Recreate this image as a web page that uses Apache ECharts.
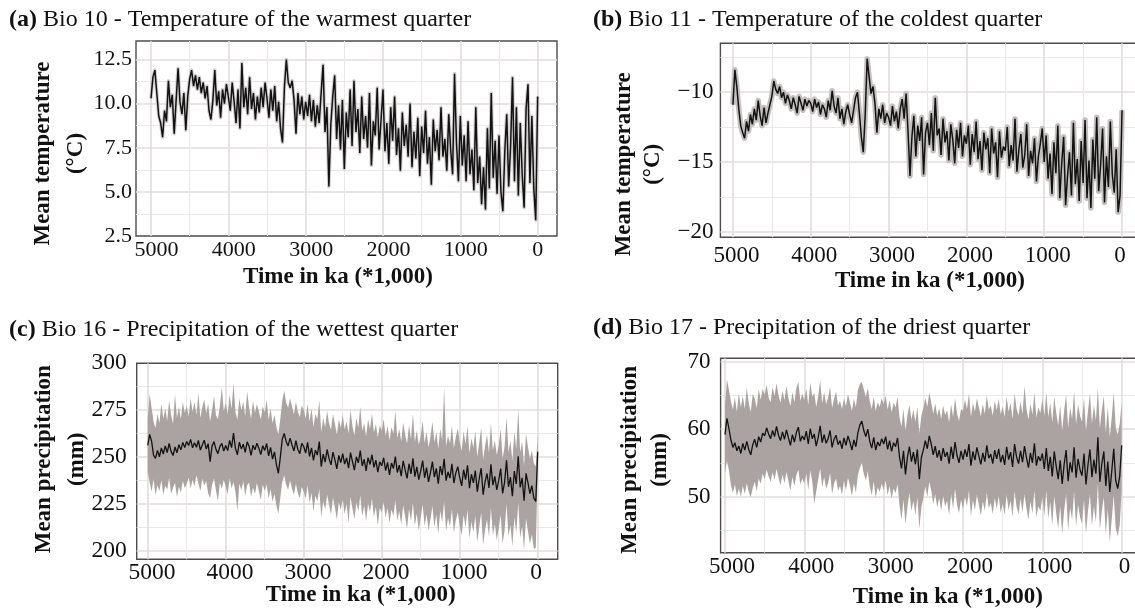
<!DOCTYPE html>
<html>
<head>
<meta charset="utf-8">
<title>Bioclimatic variables through time</title>
<script src="https://cdn.jsdelivr.net/npm/echarts@6/dist/echarts.min.js"></script>
<style>
  html, body { margin: 0; padding: 0; background: #fff; }
  #chart { width: 1135px; height: 613px; }
</style>
</head>
<body>
<div id="chart"></div>
<script>
// time steps shared by every panel (ka)
const timeKa = [
  5000, 4975, 4950, 4925, 4900, 4875, 4850, 4825, 4800, 4775, 4750, 4725, 4700, 4675, 4650, 4625, 4600, 4575, 4550, 4525,
  4500, 4475, 4450, 4425, 4400, 4375, 4350, 4325, 4300, 4275, 4250, 4225, 4200, 4175, 4150, 4125, 4100, 4075, 4050, 4025,
  4000, 3975, 3950, 3925, 3900, 3875, 3850, 3825, 3800, 3775, 3750, 3725, 3700, 3675, 3650, 3625, 3600, 3575, 3550, 3525,
  3500, 3475, 3450, 3425, 3400, 3375, 3350, 3325, 3300, 3275, 3250, 3225, 3200, 3175, 3150, 3125, 3100, 3075, 3050, 3025,
  3000, 2975, 2950, 2925, 2900, 2875, 2850, 2825, 2800, 2775, 2750, 2725, 2700, 2675, 2650, 2625, 2600, 2575, 2550, 2525,
  2500, 2475, 2450, 2425, 2400, 2375, 2350, 2325, 2300, 2275, 2250, 2225, 2200, 2175, 2150, 2125, 2100, 2075, 2050, 2025,
  2000, 1975, 1950, 1925, 1900, 1875, 1850, 1825, 1800, 1775, 1750, 1725, 1700, 1675, 1650, 1625, 1600, 1575, 1550, 1525,
  1500, 1475, 1450, 1425, 1400, 1375, 1350, 1325, 1300, 1275, 1250, 1225, 1200, 1175, 1150, 1125, 1100, 1075, 1050, 1025,
  1000, 975, 950, 925, 900, 875, 850, 825, 800, 775, 750, 725, 700, 675, 650, 625, 600, 575, 550, 525,
  500, 475, 450, 425, 400, 375, 350, 325, 300, 275, 250, 225, 200, 175, 150, 125, 100, 75, 50, 25,
  0
]

// (a) Bio 10, mean temperature of the warmest quarter (°C)
const bio10Mean = [
  10.3, 11.5, 11.9, 10.6, 9.3, 8.9, 8.1, 9.6, 9.0, 11.3, 9.8, 10.5, 8.3, 10.2, 12.0, 10.1, 9.4, 10.6, 8.5, 10.4,
  11.4, 11.9, 11.0, 11.6, 10.8, 11.5, 10.6, 11.2, 10.3, 11.0, 9.6, 9.1, 10.2, 11.9, 9.9, 10.7, 9.2, 10.8, 10.0, 11.1,
  10.4, 9.6, 11.2, 10.1, 8.9, 10.8, 8.6, 12.3, 9.8, 10.9, 9.4, 11.5, 9.7, 10.6, 9.1, 10.4, 9.5, 10.9, 9.8, 11.2,
  10.3, 9.2, 10.8, 9.6, 11.0, 9.0, 10.1, 8.6, 7.8, 10.9, 12.5, 11.2, 10.9, 11.3, 10.2, 8.3, 10.6, 9.4, 10.4, 9.1,
  10.1, 9.3, 10.5, 9.0, 10.2, 8.7, 9.9, 8.9, 10.6, 12.2, 8.4, 9.8, 5.3, 8.8, 10.4, 11.6, 8.0, 9.9, 7.4, 10.2,
  6.3, 9.5, 8.1, 10.8, 7.6, 11.3, 8.4, 9.7, 7.2, 10.4, 8.0, 9.3, 7.5, 10.6, 6.5, 9.0, 8.2, 10.9, 7.4, 9.1,
  10.8, 7.3, 8.9, 6.6, 9.8, 7.9, 10.4, 7.1, 8.6, 6.2, 9.5, 7.6, 8.8, 7.0, 10.0, 6.4, 8.4, 6.9, 9.2, 5.9,
  8.7, 7.2, 9.6, 6.6, 8.1, 5.4, 9.1, 7.3, 8.5, 6.8, 9.8, 7.0, 8.0, 6.2, 9.4, 7.4, 6.0, 11.7, 7.8, 5.6,
  9.3, 6.5, 8.2, 5.6, 9.0, 6.0, 7.4, 5.1, 9.8, 5.5, 7.0, 4.3, 6.4, 4.0, 8.6, 5.2, 10.6, 5.8, 7.9, 4.9,
  8.2, 5.0, 3.9, 7.3, 9.4, 5.3, 7.6, 11.5, 5.6, 9.8, 4.8, 8.9, 6.0, 4.1, 9.7, 11.1, 5.5, 9.3, 5.2, 3.4,
  10.4
]

// (b) Bio 11, mean temperature of the coldest quarter (°C)
const bio11Mean = [
  -10.9, -8.4, -9.6, -11.2, -12.4, -12.9, -13.3, -12.1, -12.8, -11.6, -12.3, -11.2, -12.0, -10.6, -11.7, -12.4, -11.1, -12.2, -11.5, -10.9,
  -10.3, -9.2, -9.8, -10.1, -9.6, -10.4, -10.0, -10.8, -10.2, -10.6, -11.2, -10.4, -10.9, -11.5, -10.3, -10.8, -11.3, -10.5, -11.0, -10.6,
  -10.8, -11.4, -10.5, -11.1, -10.7, -11.6, -10.9, -11.2, -11.8, -10.6, -11.3, -9.9, -11.0, -11.5, -10.4, -11.9, -11.2, -12.3, -11.4, -10.9,
  -11.6, -12.2, -11.3, -10.4, -10.0, -11.5, -13.2, -14.3, -11.6, -7.6, -8.9, -10.1, -9.6, -10.8, -12.9, -11.2, -11.9, -10.9, -12.2, -11.5,
  -11.8, -12.4, -11.0, -12.1, -11.4, -12.6, -11.2, -10.5, -11.9, -10.1, -12.8, -16.0, -13.2, -11.7, -14.6, -12.4, -13.5, -11.8, -15.9, -12.9,
  -12.2, -13.8, -11.5, -14.2, -10.4, -13.1, -12.6, -14.5, -11.9, -13.6, -12.8, -14.9, -12.3, -13.4, -15.1, -12.7, -14.0, -12.2, -14.6, -13.1,
  -13.7, -12.4, -15.2, -13.0, -14.3, -12.1, -14.8, -13.5, -15.6, -12.9, -14.1, -13.3, -15.8, -12.6, -14.4, -13.6, -16.1, -12.8, -14.7, -13.9,
  -14.2, -12.5, -15.3, -13.8, -14.9, -11.9, -15.7, -14.1, -13.0, -15.4, -14.5, -12.3, -16.0, -14.2, -15.1, -13.3, -16.4, -14.6, -13.7, -12.6,
  -15.0, -13.1, -16.2, -14.4, -17.3, -13.6, -15.8, -12.4, -17.6, -15.1, -13.2, -18.1, -16.0, -14.3, -17.4, -12.2, -16.6, -14.8, -17.8, -13.5,
  -16.5, -12.0, -17.6, -14.9, -18.3, -13.4, -16.2, -11.8, -17.1, -15.2, -12.6, -17.9, -14.6, -16.8, -12.1, -15.9, -17.2, -14.1, -18.6, -17.4,
  -11.3
]

// (c) Bio 16, precipitation of the wettest quarter (mm): mean and envelope
const bio16Mean = [
  256.2, 262.1, 258.4, 251.0, 249.3, 253.5, 250.1, 254.8, 251.6, 255.9, 252.4, 257.2, 253.0, 250.8, 255.3, 252.2, 256.6, 253.8, 257.8, 255.1,
  258.3, 256.1, 259.4, 254.9, 257.6, 255.2, 258.8, 253.7, 256.4, 259.0, 254.3, 257.1, 247.5, 255.8, 258.2, 254.1, 251.8, 255.5, 257.3, 253.2,
  256.1, 253.4, 258.9, 255.0, 262.8, 254.6, 251.2, 257.9, 254.3, 256.8, 252.5, 258.1, 255.7, 250.9, 256.3, 253.8, 257.4, 254.7, 251.3, 256.0,
  253.5, 257.2, 250.6, 255.1, 248.9, 252.7, 246.0, 241.3, 249.8, 259.5, 262.6, 258.3, 255.9, 260.1, 256.4, 253.2, 258.7, 254.0, 251.8, 257.3,
  255.6, 252.1, 257.8, 250.3, 254.9, 248.2, 253.6, 251.0, 258.2, 244.9, 251.5, 247.3, 254.0, 249.1, 245.8, 252.6, 248.5, 243.7, 250.9, 247.0,
  251.8, 246.2, 249.5, 244.1, 252.3, 247.6, 243.0, 250.1, 246.9, 253.4, 245.2, 248.8, 242.6, 249.7, 246.0, 251.2, 244.5, 248.3, 241.9, 247.4,
  245.3, 249.6, 242.8, 247.1, 240.4, 246.8, 243.9, 250.2, 241.7, 245.6, 239.8, 247.9, 243.2, 238.6, 246.4, 241.0, 249.3, 239.5, 244.7, 237.9,
  242.6, 248.1, 238.9, 244.3, 236.7, 241.8, 247.5, 239.2, 243.9, 235.8, 245.1, 240.3, 249.0, 237.4, 242.1, 238.7, 246.3, 236.1, 241.5, 244.8,
  239.0, 234.6, 243.2, 237.9, 245.6, 233.4, 240.8, 236.2, 242.7, 231.5, 238.4, 244.0, 229.9, 236.8, 241.2, 233.5, 246.1, 235.0, 239.7, 232.4,
  237.5, 243.8, 230.6, 236.4, 248.3, 234.1, 239.2, 229.1, 242.5, 235.6, 250.4, 233.8, 238.9, 226.7, 241.3, 236.2, 230.4, 234.7, 228.0, 226.3,
  252.8
]
const bio16Upper = [
  270.5, 283.8, 276.2, 268.9, 265.4, 273.1, 268.2, 278.6, 270.4, 275.9, 269.3, 280.1, 272.4, 267.7, 283.5, 271.0, 276.8, 270.2, 279.4, 273.6,
  277.3, 271.8, 281.5, 274.0, 279.2, 272.6, 284.0, 270.9, 276.5, 280.7, 273.2, 278.4, 268.9, 275.1, 282.6, 272.3, 270.1, 276.9, 287.5, 274.4,
  278.8, 273.0, 283.2, 275.6, 289.4, 274.1, 269.8, 281.3, 275.0, 279.6, 271.7, 285.1, 276.3, 270.4, 279.9, 273.5, 278.2, 274.6, 270.0, 277.1,
  273.8, 280.6, 269.7, 275.9, 268.1, 272.4, 266.0, 262.2, 270.3, 280.2, 285.5, 278.9, 276.1, 281.4, 277.0, 272.8, 279.6, 274.2, 271.3, 277.5,
  275.2, 270.6, 278.4, 268.9, 276.0, 266.1, 272.8, 270.2, 280.3, 263.4, 271.0, 265.8, 274.7, 268.0, 264.4, 273.1, 267.5, 262.0, 270.2, 265.5,
  272.6, 264.8, 269.1, 262.5, 275.2, 266.3, 261.5, 270.7, 265.6, 276.8, 263.9, 268.0, 261.0, 270.2, 264.9, 273.4, 263.0, 267.6, 260.4, 266.9,
  264.0, 270.3, 261.2, 266.5, 258.9, 265.9, 262.5, 274.6, 260.1, 264.9, 258.3, 268.4, 262.0, 257.0, 267.0, 259.5, 273.1, 258.0, 264.2, 256.4,
  261.4, 269.3, 257.5, 263.5, 255.2, 260.9, 268.8, 257.8, 263.4, 254.4, 265.0, 259.1, 286.9, 256.0, 261.3, 257.3, 266.8, 254.7, 260.7, 265.4,
  258.0, 253.2, 263.8, 256.9, 266.7, 252.0, 260.0, 254.8, 263.9, 250.1, 257.4, 265.8, 248.5, 255.8, 262.0, 252.1, 268.2, 253.6, 258.9, 251.0,
  256.6, 264.9, 249.2, 255.5, 271.3, 252.7, 258.5, 247.7, 263.6, 254.3, 275.8, 252.4, 258.2, 245.3, 262.5, 255.3, 249.0, 253.4, 246.6, 244.9,
  262.0
]
const bio16Lower = [
  242.0, 236.5, 231.4, 238.2, 229.6, 235.0, 231.8, 237.6, 229.9, 234.7, 232.5, 238.9, 230.2, 233.6, 236.3, 228.7, 234.1, 231.0, 237.2, 233.4,
  235.6, 239.1, 233.2, 237.8, 234.4, 240.3, 236.0, 231.9, 238.5, 234.8, 237.2, 230.7, 228.0, 234.9, 238.6, 232.1, 226.5, 236.3, 233.0, 237.9,
  234.2, 230.1, 238.5, 233.3, 236.7, 231.5, 221.3, 235.8, 232.2, 237.0, 229.4, 234.9, 236.4, 228.8, 233.7, 230.2, 236.1, 231.9, 227.0, 235.3,
  231.8, 235.4, 228.0, 232.9, 226.1, 230.2, 224.0, 219.7, 228.2, 236.6, 240.1, 235.2, 232.4, 237.5, 233.0, 229.8, 235.6, 230.8, 228.0, 234.0,
  231.5, 227.9, 234.6, 225.5, 230.9, 221.0, 229.3, 226.4, 232.8, 217.8, 226.5, 222.0, 229.8, 224.7, 219.2, 228.4, 223.1, 216.5, 226.0, 221.9,
  227.3, 219.6, 225.0, 214.9, 228.6, 222.5, 216.8, 225.9, 221.0, 229.5, 218.4, 224.3, 215.7, 225.2, 220.6, 227.8, 218.0, 223.4, 213.5, 222.8,
  220.4, 226.0, 217.6, 222.9, 214.8, 222.0, 218.5, 227.0, 216.0, 221.3, 213.7, 224.2, 218.1, 211.8, 222.2, 215.9, 225.5, 213.4, 219.9, 210.6,
  218.0, 224.6, 213.0, 219.5, 210.9, 216.8, 223.9, 212.7, 219.3, 208.9, 221.2, 215.0, 226.4, 210.5, 217.4, 212.9, 222.1, 209.5, 216.2, 220.4,
  213.5, 208.3, 219.0, 212.6, 221.9, 206.5, 215.5, 209.8, 218.7, 204.6, 212.8, 220.2, 203.0, 211.2, 216.8, 207.4, 222.8, 208.3, 214.2, 205.7,
  212.0, 219.2, 203.8, 210.6, 224.9, 207.5, 213.7, 202.4, 217.9, 209.4, 225.6, 206.9, 213.1, 200.6, 217.2, 210.4, 203.7, 208.8, 200.9, 201.5,
  243.5
]

// (d) Bio 17, precipitation of the driest quarter (mm): mean and envelope
const bio17Mean = [
  59.2, 61.6, 60.1, 58.4, 57.3, 58.0, 56.8, 57.5, 56.4, 57.9, 56.9, 58.2, 57.0, 56.2, 57.7, 58.5, 57.3, 58.9, 58.1, 59.4,
  59.0, 60.2, 59.3, 58.6, 59.8, 58.9, 60.4, 59.1, 58.3, 59.6, 58.5, 59.9, 58.7, 57.6, 59.2, 58.1, 59.5, 60.3, 58.2, 59.0,
  58.4, 59.7, 57.8, 60.1, 58.6, 59.3, 57.5, 58.8, 60.5, 58.0, 59.2, 57.9, 58.6, 59.8, 57.3, 58.5, 59.1, 57.7, 58.3, 57.1,
  58.7, 57.6, 59.0, 58.1, 56.9, 58.4, 57.4, 59.5, 60.6, 61.2, 59.8, 58.9, 60.0, 58.2, 57.2, 58.8, 56.9, 58.1, 57.5, 58.6,
  57.8, 58.9, 57.0, 58.3, 56.7, 58.0, 57.4, 58.7, 55.9, 54.2, 56.8, 53.3, 55.9, 57.4, 55.2, 56.6, 54.8, 57.0, 52.6, 55.8,
  56.9, 58.3, 57.1, 59.0, 57.8, 56.2, 57.5, 55.8, 56.9, 55.3, 57.2, 55.9, 56.6, 54.9, 57.4, 55.6, 58.1, 56.1, 55.0, 56.8,
  55.5, 57.0, 55.9, 57.8, 54.6, 56.7, 55.4, 57.3, 56.0, 54.8, 56.5, 55.2, 57.6, 55.7, 56.3, 54.9, 56.9, 55.6, 57.1, 55.1,
  56.2, 54.7, 57.4, 55.5, 56.6, 54.4, 57.8, 55.9, 54.9, 56.8, 55.1, 57.5, 55.8, 54.3, 56.5, 55.0, 57.9, 54.6, 56.0, 55.3,
  56.4, 54.1, 57.2, 53.8, 55.9, 53.0, 56.7, 54.5, 52.6, 55.4, 51.9, 54.8, 56.9, 52.3, 55.1, 53.6, 57.3, 52.8, 55.6, 54.0,
  53.1, 56.4, 51.8, 54.7, 57.0, 52.9, 55.5, 53.4, 58.8, 52.2, 54.9, 56.7, 51.6, 55.2, 50.7, 53.8, 57.1, 52.4, 51.2, 53.0,
  57.6
]
const bio17Upper = [
  63.5, 67.4, 65.8, 64.1, 62.9, 64.7, 62.6, 65.3, 63.2, 64.9, 63.0, 66.1, 63.8, 62.5, 65.2, 64.6, 63.1, 65.9, 64.4, 66.0,
  65.1, 66.6, 64.7, 64.0, 66.2, 64.9, 66.8, 65.0, 63.9, 65.7, 64.3, 66.4, 64.6, 63.4, 65.5, 64.0, 66.1, 67.0, 64.2, 65.3,
  64.3, 66.0, 63.6, 66.9, 64.8, 65.4, 63.3, 64.9, 67.2, 63.8, 65.5, 63.7, 64.7, 66.3, 63.1, 64.5, 65.6, 63.5, 64.2, 63.0,
  64.6, 63.4, 65.2, 64.0, 62.7, 64.5, 63.2, 65.8, 66.7, 67.0, 65.9, 64.8, 66.1, 64.1, 63.0, 64.8, 62.7, 64.0, 63.3, 64.6,
  63.7, 65.0, 62.9, 64.3, 62.5, 63.9, 63.2, 64.8, 61.7, 60.4, 62.9, 59.8, 62.1, 63.6, 61.4, 62.9, 61.1, 63.3, 59.4, 62.0,
  63.1, 64.7, 63.3, 65.4, 64.0, 62.3, 63.8, 62.0, 63.1, 61.5, 63.5, 62.1, 62.8, 61.0, 63.7, 61.8, 64.6, 62.3, 61.2, 63.0,
  62.7, 64.4, 63.0, 65.3, 61.8, 63.9, 62.6, 64.6, 63.2, 61.9, 63.7, 62.3, 65.0, 62.9, 63.5, 62.0, 64.2, 62.8, 64.5, 62.2,
  63.4, 61.8, 64.8, 62.6, 63.9, 61.5, 65.3, 63.1, 62.0, 64.1, 62.2, 66.4, 63.0, 61.4, 63.8, 62.1, 65.4, 61.7, 63.2, 62.4,
  64.5, 62.0, 65.4, 61.8, 63.9, 61.0, 64.8, 62.4, 60.6, 63.5, 59.8, 62.8, 65.1, 60.2, 63.2, 61.5, 65.6, 60.7, 63.7, 62.0,
  61.1, 64.6, 59.8, 62.7, 65.3, 60.8, 63.6, 61.3, 66.1, 60.1, 62.9, 64.9, 59.5, 63.3, 58.8, 61.8, 65.4, 60.3, 59.2, 60.8,
  64.0
]
const bio17Lower = [
  53.5, 55.3, 53.9, 51.7, 50.6, 51.8, 50.1, 51.2, 50.0, 51.6, 50.4, 52.0, 50.7, 49.9, 51.3, 52.2, 50.8, 52.7, 51.9, 53.4,
  52.6, 54.0, 53.0, 52.2, 53.6, 52.5, 54.1, 52.8, 51.7, 53.3, 52.0, 53.7, 52.3, 50.9, 52.9, 51.6, 53.2, 54.0, 51.8, 52.7,
  51.9, 53.4, 51.0, 53.9, 52.3, 49.0, 50.8, 52.5, 54.2, 51.4, 52.9, 51.2, 52.0, 53.5, 50.4, 51.9, 52.7, 50.9, 51.6, 50.3,
  52.4, 50.9, 52.8, 51.7, 50.1, 52.0, 50.6, 53.2, 54.3, 55.0, 53.4, 52.4, 53.8, 51.5, 50.2, 52.3, 49.8, 51.4, 50.7, 51.9,
  51.0, 52.4, 50.2, 51.6, 49.7, 51.2, 50.5, 51.9, 48.7, 46.6, 49.6, 45.9, 48.5, 50.6, 47.9, 49.4, 47.3, 49.9, 45.2, 48.4,
  49.8, 51.5, 50.0, 52.2, 50.9, 48.9, 50.4, 48.4, 49.8, 47.9, 50.1, 48.6, 49.4, 47.3, 50.4, 48.2, 51.2, 48.8, 47.6, 49.6,
  48.1, 50.0, 48.6, 50.9, 47.1, 49.5, 48.0, 50.3, 48.8, 47.2, 49.3, 47.9, 50.6, 48.3, 49.1, 47.4, 49.8, 48.2, 50.1, 47.6,
  49.0, 47.3, 50.3, 48.0, 49.4, 46.9, 50.8, 48.5, 47.4, 49.7, 47.7, 50.4, 48.3, 46.6, 49.3, 47.5, 50.9, 47.0, 48.6, 47.9,
  49.9, 47.1, 50.9, 46.8, 49.2, 45.8, 50.1, 47.5, 45.3, 48.6, 44.5, 47.9, 50.4, 45.0, 48.4, 46.6, 50.8, 45.6, 48.8, 47.0,
  46.0, 49.6, 44.6, 47.8, 50.4, 45.7, 48.6, 46.2, 52.0, 45.1, 47.9, 49.9, 44.4, 48.2, 43.3, 46.7, 50.2, 45.3, 44.1, 45.8,
  50.9
]

const FONT = "'Liberation Serif', 'Times New Roman', serif"
const INK = '#111'
const GRID_MAJOR = '#e3dddd'
const GRID_MINOR = '#ece8e8'

const panels = [
  {
    tag: 'a', title: 'Bio 10 - Temperature of the warmest quarter', titlePos: [9, 6],
    box: [136, 41, 421, 195], x: [-250, 5194], y: [2.5, 13.55], yStep: 2.5,
    yFmt: v => v.toFixed(1), yLabel: { size: 22, margin: 4 },
    xLabel: { size: 22, margin: 2, shift: 5.5, zeroShift: 0 },
    xNameGap: 28, xNameShift: -8.5,
    yName: 'Mean temperature\n(°C)', yNameGap: 43, yNameLH: 33, yNameDown: 15,
    mean: bio10Mean, lineWidth: 1.5, halo: { color: '#d3cfcf', width: 3.6 }
  },
  {
    tag: 'b', title: 'Bio 11 - Temperature of the coldest quarter', titlePos: [593, 6],
    box: [720.4, 43.3, 421, 194], x: [-249, 5161], y: [-20.4, -6.5], yStep: 5,
    yFmt: v => '\u2212' + Math.abs(v), yLabel: { size: 23, margin: 7 },
    xLabel: { size: 23, margin: 7, shift: 3.5, zeroShift: -2 },
    xNameGap: 31, xNameShift: -1,
    yName: 'Mean temperature\n(°C)', yNameGap: 53, yNameLH: 29, yNameDown: 24,
    mean: bio11Mean, lineWidth: 1.5, halo: { color: '#c4c0bf', width: 5.5 }
  },
  {
    tag: 'c', title: 'Bio 16 - Precipitation of the wettest quarter', titlePos: [9, 316],
    box: [136.7, 363.3, 421, 196], x: [-256, 5141], y: [195.4, 300], yStep: 25,
    yFmt: v => String(v), yLabel: { size: 23.5, margin: 10 },
    xLabel: { size: 23.5, margin: 2, shift: 4.3, zeroShift: -1.7 },
    xNameGap: 23, xNameShift: 13.5,
    yName: 'Mean precipitation\n(mm)', yNameGap: 43.5, yNameLH: 33, yNameDown: -2,
    mean: bio16Mean, lineWidth: 1.3, upper: bio16Upper, lower: bio16Lower
  },
  {
    tag: 'd', title: 'Bio 17 - Precipitation of the driest quarter', titlePos: [593, 314],
    box: [720.6, 358.3, 421, 194.4], x: [-251, 5055], y: [41.7, 70.5], yStep: 10,
    yFmt: v => String(v), yLabel: { size: 23, margin: 10 },
    xLabel: { size: 23, margin: 2, shift: 7, zeroShift: 2.7 },
    xNameGap: 31, xNameShift: 16.7,
    yName: 'Mean precipitation\n(mm)', yNameGap: 46, yNameLH: 30, yNameDown: 4.5,
    mean: bio17Mean, lineWidth: 1.3, upper: bio17Upper, lower: bio17Lower
  }
]

const onStep = (v, step) => Math.abs(v / step - Math.round(v / step)) < 1e-6
const pad = s => [0, s < 0 ? -2 * s : 0, 0, s > 0 ? 2 * s : 0]
const pairs = arr => timeKa.map((t, i) => [t, arr[i]])

const gridLines = {
  splitLine: { show: true, showMinLine: false, showMaxLine: false, lineStyle: { color: GRID_MAJOR, width: 1.6 } },
  minorTick: { show: false, splitNumber: 2 },
  minorSplitLine: { show: true, lineStyle: { color: GRID_MINOR, width: 1.1 } }
}

const option = {
  animation: false,
  backgroundColor: '#fff',
  title: panels.map(p => ({
    left: p.titlePos[0], top: p.titlePos[1], padding: 0,
    text: '{b|(' + p.tag + ')} ' + p.title,
    textStyle: {
      fontFamily: FONT, fontSize: 24, fontWeight: 'normal', color: INK, lineHeight: 28,
      rich: { b: { fontFamily: FONT, fontSize: 24, fontWeight: 'bold', color: INK, lineHeight: 28 } }
    }
  })),
  grid: panels.map(p => ({
    left: p.box[0], top: p.box[1], width: p.box[2], height: p.box[3],
    show: true, backgroundColor: '#fff', borderColor: '#4f4b4b', borderWidth: 1.4,
    containLabel: false, outerBoundsMode: 'none'
  })),
  xAxis: panels.map((p, i) => ({
    gridIndex: i, type: 'value', inverse: true, min: p.x[0], max: p.x[1],
    minInterval: 1000, maxInterval: 1000,
    axisLine: { show: false, onZero: false },
    axisTick: { show: false },
    ...gridLines,
    axisLabel: {
      margin: p.xLabel.margin,
      formatter: v => (v % 1000 !== 0 ? '' : v === 0 ? '{z|0}' : '{n|' + v + '}'),
      rich: {
        n: { fontFamily: FONT, fontSize: p.xLabel.size, color: INK, lineHeight: 24, padding: pad(p.xLabel.shift) },
        z: { fontFamily: FONT, fontSize: p.xLabel.size, color: INK, lineHeight: 24, padding: pad(p.xLabel.zeroShift) }
      }
    },
    name: 'Time in ka (*1,000)', nameLocation: 'middle', nameGap: p.xNameGap, nameMoveOverlap: false,
    nameTextStyle: {
      fontFamily: FONT, fontSize: 23, fontWeight: 'bold', color: INK, lineHeight: 26,
      padding: pad(p.xNameShift)
    }
  })),
  yAxis: panels.map((p, i) => ({
    gridIndex: i, type: 'value', min: p.y[0], max: p.y[1],
    minInterval: p.yStep, maxInterval: p.yStep,
    axisLine: { show: false, onZero: false },
    axisTick: { show: false },
    ...gridLines,
    axisLabel: {
      margin: p.yLabel.margin, fontFamily: FONT, fontSize: p.yLabel.size, color: INK,
      formatter: v => (onStep(v, p.yStep) ? p.yFmt(v) : '')
    },
    name: p.yName, nameLocation: 'middle', nameRotate: 90, nameGap: p.yNameGap, nameMoveOverlap: false,
    nameTextStyle: {
      fontFamily: FONT, fontSize: 23, fontWeight: 'bold', color: INK, lineHeight: p.yNameLH,
      // rotated text: right padding moves it down the page
      padding: p.yNameDown > 0 ? [0, 2 * p.yNameDown, 0, 0] : [0, 0, 0, -2 * p.yNameDown]
    }
  })),
  series: []
}

panels.forEach((p, i) => {
  if (p.upper) {
    option.series.push({
      type: 'custom', xAxisIndex: i, yAxisIndex: i, silent: true, z: 1,
      data: [[timeKa[0], p.lower[0]]],
      renderItem: (params, api) => {
        const top = timeKa.map((t, k) => api.coord([t, p.upper[k]]))
        const bottom = timeKa.map((t, k) => api.coord([t, p.lower[k]])).reverse()
        return { type: 'polygon', shape: { points: top.concat(bottom) }, style: { fill: '#aaa3a1' } }
      }
    })
  }
  if (p.halo) {
    option.series.push({
      type: 'line', xAxisIndex: i, yAxisIndex: i, silent: true, z: 1,
      data: pairs(p.mean), symbol: 'none',
      lineStyle: { color: p.halo.color, width: p.halo.width, join: 'round' }
    })
  }
  option.series.push({
    type: 'line', xAxisIndex: i, yAxisIndex: i, silent: true, z: 3,
    data: pairs(p.mean), symbol: 'none',
    lineStyle: { color: '#121212', width: p.lineWidth }
  })
})

const chart = echarts.init(document.getElementById('chart'), null, { renderer: 'canvas' })
chart.setOption(option)
</script>
</body>
</html>
